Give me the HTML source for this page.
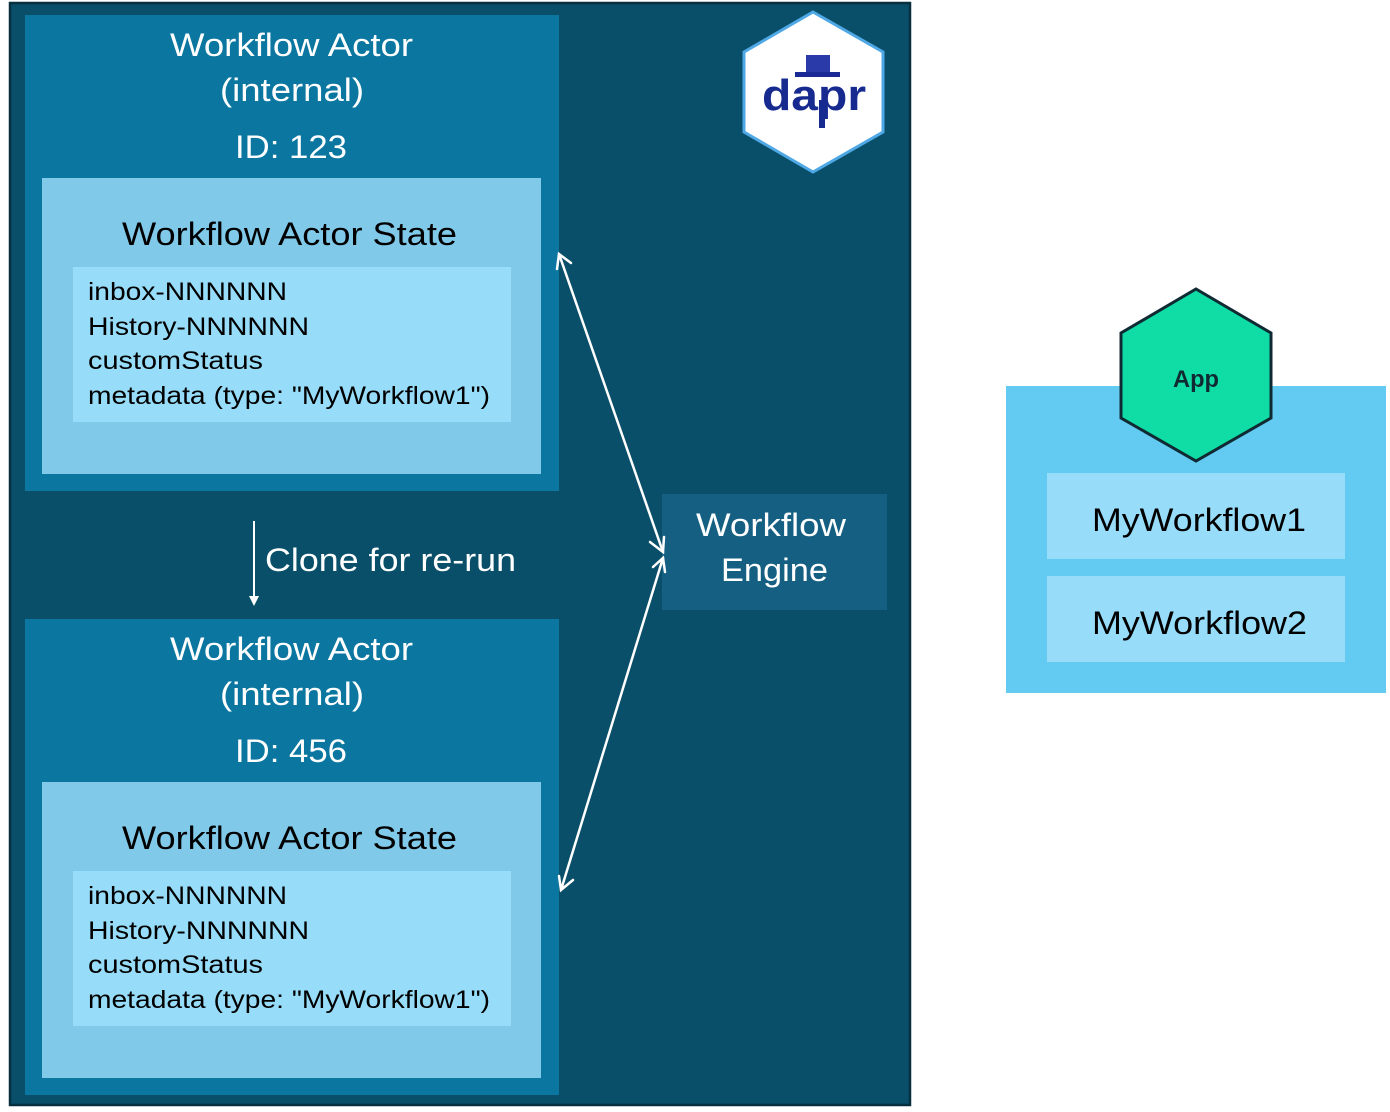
<!DOCTYPE html>
<html><head><meta charset="utf-8"><style>
html,body{margin:0;padding:0;background:#fff;}
svg{display:block;font-family:"Liberation Sans",sans-serif;}
</style></head><body>
<svg width="1390" height="1112" viewBox="0 0 1390 1112" xmlns="http://www.w3.org/2000/svg">
<rect x="10" y="3" width="900" height="1102" fill="#0a4f69" stroke="#062f40" stroke-width="2.5"/>
<!-- actor 1 -->
<rect x="25" y="15" width="534" height="476" fill="#0b76a0"/>
<g fill="#fff" font-size="32" lengthAdjust="spacingAndGlyphs">
<text x="170" y="56" textLength="243" lengthAdjust="spacingAndGlyphs">Workflow Actor</text>
<text x="220" y="101" textLength="144" lengthAdjust="spacingAndGlyphs">(internal)</text>
<text x="235" y="158" textLength="112" lengthAdjust="spacingAndGlyphs">ID: 123</text>
</g>
<rect x="42" y="178" width="499" height="296" fill="#80c9e9"/>
<text x="122" y="245" fill="#000" font-size="32" textLength="335" lengthAdjust="spacingAndGlyphs">Workflow Actor State</text>
<rect x="73" y="267" width="438" height="155" fill="#97dcf8"/>
<g fill="#000" font-size="25">
<text x="88" y="300" textLength="199" lengthAdjust="spacingAndGlyphs">inbox-NNNNNN</text>
<text x="88" y="335" textLength="221" lengthAdjust="spacingAndGlyphs">History-NNNNNN</text>
<text x="88" y="369" textLength="175" lengthAdjust="spacingAndGlyphs">customStatus</text>
<text x="88" y="404" textLength="402" lengthAdjust="spacingAndGlyphs">metadata (type: "MyWorkflow1")</text>
</g>
<!-- actor 2 -->
<rect x="25" y="619" width="534" height="476" fill="#0b76a0"/>
<g fill="#fff" font-size="32">
<text x="170" y="660" textLength="243" lengthAdjust="spacingAndGlyphs">Workflow Actor</text>
<text x="220" y="705" textLength="144" lengthAdjust="spacingAndGlyphs">(internal)</text>
<text x="235" y="762" textLength="112" lengthAdjust="spacingAndGlyphs">ID: 456</text>
</g>
<rect x="42" y="782" width="499" height="296" fill="#80c9e9"/>
<text x="122" y="849" fill="#000" font-size="32" textLength="335" lengthAdjust="spacingAndGlyphs">Workflow Actor State</text>
<rect x="73" y="871" width="438" height="155" fill="#97dcf8"/>
<g fill="#000" font-size="25">
<text x="88" y="904" textLength="199" lengthAdjust="spacingAndGlyphs">inbox-NNNNNN</text>
<text x="88" y="939" textLength="221" lengthAdjust="spacingAndGlyphs">History-NNNNNN</text>
<text x="88" y="973" textLength="175" lengthAdjust="spacingAndGlyphs">customStatus</text>
<text x="88" y="1008" textLength="402" lengthAdjust="spacingAndGlyphs">metadata (type: "MyWorkflow1")</text>
</g>
<!-- clone arrow -->
<line x1="254" y1="521" x2="254" y2="604" stroke="#fff" stroke-width="2"/>
<path d="M249 596 L254 606 L259 596 Z" fill="#fff"/>
<text x="265" y="571" fill="#fff" font-size="32" textLength="251" lengthAdjust="spacingAndGlyphs">Clone for re-run</text>
<!-- engine -->
<rect x="662" y="494" width="225" height="116" fill="#155f82"/>
<text x="696" y="536" fill="#fff" font-size="32" textLength="150" lengthAdjust="spacingAndGlyphs">Workflow</text>
<text x="721" y="581" fill="#fff" font-size="32" textLength="107" lengthAdjust="spacingAndGlyphs">Engine</text>
<!-- double arrows -->
<g stroke="#fff" stroke-width="2.5" fill="none" stroke-linecap="round">
<line x1="559" y1="254" x2="663" y2="552"/>
<polyline points="557,269 559,254 571,263"/>
<polyline points="650,542 663,552 664,537"/>
<line x1="663" y1="558" x2="561" y2="890"/>
<polyline points="653,567 663,558 665,572"/>
<polyline points="559,876 561,890 573,880"/>
</g>
<!-- dapr hex -->
<polygon points="813,12 883,52 883,132 813,172 744,132 744,52" fill="#fff" stroke="#4fa8e6" stroke-width="3"/>
<rect x="806" y="55" width="24" height="18" fill="#2a3aa8"/>
<rect x="795" y="72" width="45" height="5" fill="#1a2a95"/>
<text x="762" y="110" fill="#172a8f" font-size="44" font-weight="bold" textLength="104" lengthAdjust="spacingAndGlyphs">dapr</text>
<rect x="819" y="100" width="6" height="28" fill="#172a8f"/>
<!-- app -->
<rect x="1006" y="386" width="380" height="307" fill="#63caf2"/>
<polygon points="1196,289 1271,333 1271,418 1196,461 1121,418 1121,333" fill="#10dda5" stroke="#102a33" stroke-width="3"/>
<text x="1173" y="387" fill="#102a33" font-size="24" font-weight="bold" textLength="46" lengthAdjust="spacingAndGlyphs">App</text>
<rect x="1047" y="473" width="298" height="86" fill="#97dcf8"/>
<text x="1092" y="531" fill="#000" font-size="32" textLength="214" lengthAdjust="spacingAndGlyphs">MyWorkflow1</text>
<rect x="1047" y="576" width="298" height="86" fill="#97dcf8"/>
<text x="1092" y="634" fill="#000" font-size="32" textLength="215" lengthAdjust="spacingAndGlyphs">MyWorkflow2</text>
</svg>
</body></html>
